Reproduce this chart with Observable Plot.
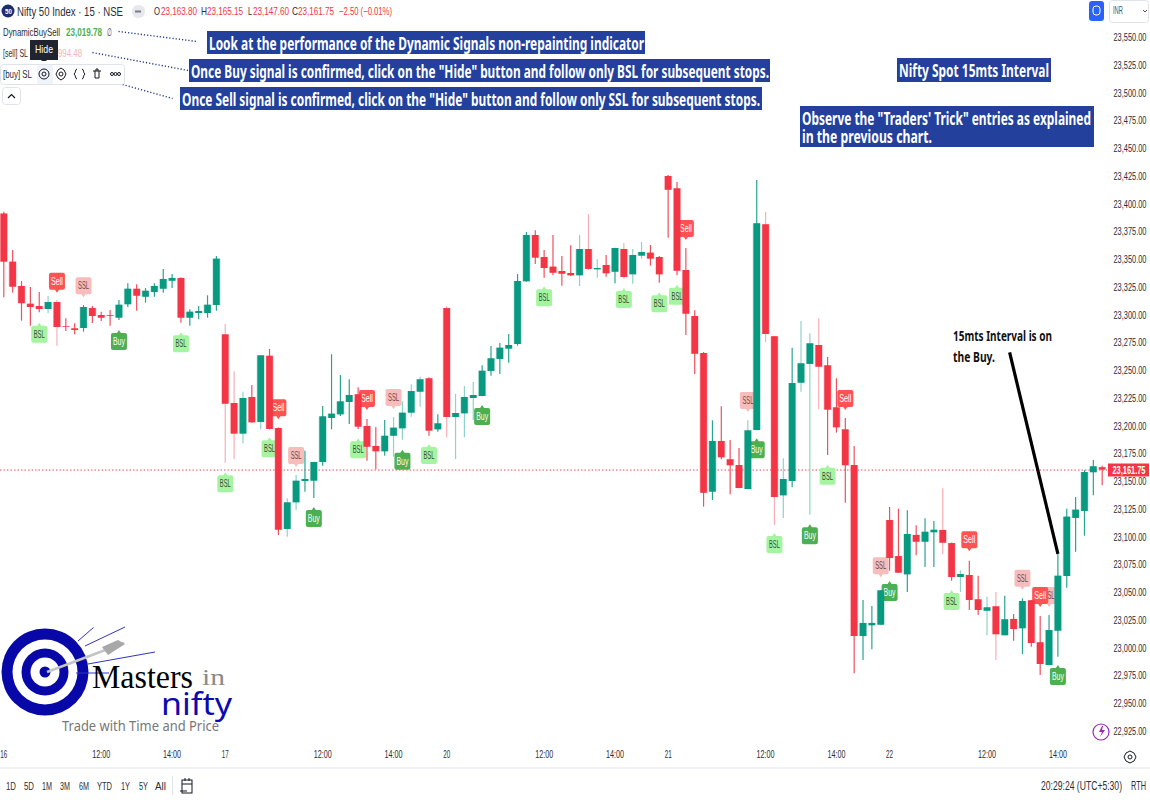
<!DOCTYPE html>
<html><head><meta charset="utf-8">
<script src="https://cdn.jsdelivr.net/npm/d3@7"></script>
<script src="https://cdn.jsdelivr.net/npm/@observablehq/plot@0.6"></script>
<style>
html,body{margin:0;padding:0;background:#fff}
#stage{position:relative;width:1150px;height:800px;overflow:hidden;background:#fff;font-family:"Liberation Sans",sans-serif}
#stage svg{position:absolute;left:0;top:0}
.t{position:absolute;white-space:nowrap;line-height:1;transform-origin:left center}
.box{position:absolute;background:#22409c}
</style></head><body><div id="stage"></div>
<script>
const opens=[23392.5,23349.1,23327.2,23311.2,23309.1,23306.4,23312.7,23290.8,23289.0,23289.3,
23307.3,23301.0,23300.8,23298.6,23310.7,23324.7,23317.5,23321.7,23324.7,23331.9,
23334.4,23298.6,23302.8,23302.8,23310.0,23283.6,23221.7,23194.1,23227.1,23204.6,
23264.3,23199.2,23108.2,23132.2,23151.4,23151.7,23168.5,23208.2,23211.5,23222.6,
23229.6,23201.0,23183.0,23178.2,23192.2,23198.9,23213.0,23231.9,23244.0,23198.0,
23307.3,23209.1,23212.4,23226.2,23228.0,23250.6,23261.4,23270.7,23274.9,23331.4,
23373.1,23353.3,23344.6,23340.7,23338.9,23336.8,23360.5,23342.2,23346.1,23340.0,
23360.5,23337.7,23354.5,23357.2,23353.3,23426.3,23415.2,23341.6,23300.1,23266.8,
23141.8,23187.5,23171.0,23165.8,23144.2,23197.4,23382.8,23281.8,23138.5,23151.4,
23240.0,23256.9,23274.0,23255.7,23217.8,23198.0,23165.8,23011.7,23021.4,23021.9,
23116.3,23083.8,23067.3,23102.8,23096.7,23105.2,23107.3,23095.5,23064.9,23066.7,
23044.8,23034.5,23038.5,23012.4,23027.1,23018.7,23043.9,23006.1,22985.6,23016.5,
23065.8,23118.1,23124.4,23159.3,23163.8];
const highs=[23394.0,23359.6,23331.7,23326.3,23321.7,23318.1,23314.5,23298.0,23293.5,23310.0,
23309.1,23304.0,23305.5,23314.5,23329.6,23328.7,23325.4,23329.6,23342.5,23338.0,
23334.9,23306.2,23309.1,23318.8,23354.2,23292.9,23250.3,23231.9,23237.9,23265.0,
23270.4,23199.6,23135.8,23156.8,23178.7,23168.8,23219.0,23265.6,23246.9,23243.1,
23235.9,23207.3,23200.1,23206.4,23209.1,23223.2,23238.6,23245.4,23245.0,23211.5,
23309.1,23229.8,23237.0,23240.6,23255.7,23273.1,23275.8,23283.9,23338.0,23375.8,
23377.4,23359.6,23373.1,23354.2,23363.8,23373.1,23392.0,23351.2,23355.1,23361.6,
23365.9,23360.5,23366.8,23364.1,23354.2,23427.2,23420.9,23361.4,23305.3,23267.7,
23206.1,23218.7,23188.4,23181.2,23206.1,23422.7,23393.8,23282.0,23171.9,23271.6,
23295.6,23284.5,23298.0,23263.2,23244.0,23208.2,23183.0,23044.2,23038.8,23053.0,
23128.0,23126.5,23125.0,23111.5,23117.8,23115.4,23144.8,23095.9,23070.9,23079.6,
23066.1,23047.2,23051.4,23048.1,23031.6,23045.7,23044.2,23029.8,23030.7,23086.3,
23126.5,23137.0,23161.3,23170.3,23165.15];
const lows=[23317.0,23321.1,23295.9,23291.4,23303.5,23302.6,23273.4,23286.6,23283.6,23286.0,
23293.8,23295.6,23291.4,23296.5,23308.2,23304.9,23312.1,23317.5,23321.1,23325.4,
23294.1,23291.4,23297.1,23298.6,23304.9,23167.9,23171.2,23185.4,23204.0,23198.0,
23198.0,23102.8,23101.2,23125.3,23141.8,23136.1,23165.2,23198.0,23210.0,23202.8,
23198.3,23169.7,23162.0,23174.2,23173.3,23188.6,23209.4,23218.4,23192.2,23195.9,
23190.8,23171.2,23190.8,23206.4,23227.8,23246.3,23247.9,23258.0,23273.4,23331.0,
23347.0,23334.6,23336.8,23327.4,23336.2,23327.2,23341.6,23334.6,23335.5,23329.6,
23333.7,23329.2,23351.8,23345.5,23330.1,23370.7,23336.8,23283.0,23247.9,23128.3,
23134.3,23171.0,23139.4,23144.9,23144.0,23197.2,23276.7,23111.8,23118.1,23145.7,
23231.9,23121.1,23216.3,23174.9,23195.0,23131.9,22978.1,22990.1,22999.7,23021.8,
23070.6,23068.7,23051.4,23084.5,23073.9,23073.9,23085.4,23061.6,23051.4,23035.2,
23030.7,23012.4,22990.1,23012.3,23007.5,22995.5,23002.1,22976.6,22985.4,22993.1,
23055.3,23087.7,23102.1,23138.5,23147.6];
const closes=[23349.1,23326.5,23311.6,23308.2,23306.4,23312.7,23290.2,23290.2,23287.5,23308.2,
23300.1,23298.6,23300.1,23310.3,23324.7,23318.4,23322.9,23327.2,23333.5,23334.4,
23298.6,23304.0,23304.6,23310.3,23351.8,23221.1,23194.1,23226.2,23204.3,23264.7,
23198.3,23107.5,23132.2,23151.7,23153.2,23168.5,23209.7,23212.1,23223.2,23228.9,
23200.4,23182.3,23178.2,23192.2,23199.5,23213.0,23232.5,23243.1,23196.8,23203.4,
23209.1,23212.7,23227.1,23228.9,23250.8,23262.0,23271.6,23274.0,23331.7,23373.1,
23352.7,23343.4,23339.1,23338.2,23336.8,23360.5,23342.5,23343.4,23338.6,23361.4,
23335.3,23355.1,23357.8,23351.8,23337.7,23413.9,23340.9,23302.2,23266.1,23140.9,
23187.5,23172.8,23165.6,23145.1,23197.1,23383.7,23283.9,23137.0,23153.2,23239.7,
23257.5,23275.5,23254.4,23215.7,23199.8,23165.6,23011.7,23023.5,23023.5,23052.9,
23082.0,23068.8,23103.7,23096.7,23105.7,23107.5,23095.8,23064.9,23067.6,23044.2,
23035.2,23037.6,23013.3,23026.8,23018.0,23043.3,23005.4,22986.5,23017.1,23066.1,
23119.3,23125.6,23159.5,23164.7,23161.75];
const paleWicks=[5,6,25,26,27,29,32,33,44,45,46,47,50,51,52,53,65,66,67,70,71,72,84,86,87,88,90,91,92,106,108,111,112];
const signalKinds=["BSL","Sell","SSL","Buy","BSL","BSL","Sell","BSL","SSL","Buy","BSL","Sell","SSL","Buy","BSL","Buy","BSL","BSL","BSL","BSL","Sell","SSL","Buy","BSL","Buy","BSL","Sell","SSL","Buy","BSL","Sell","SSL","SSL","Sell","Buy"];
const signalBars=[4,6,9,13,20,25,31,30,33,35,40,41,44,45,48,54,61,70,74,76,77,84,85,87,91,93,95,99,100,107,109,115,118,117,119];
const signalPrices=[23284.2,23331.9,23327.8,23277.6,23275.5,23149.3,23217.8,23180.9,23174.9,23118.1,23180.0,23226.2,23227.1,23169.7,23174.9,23210.0,23317.0,23315.4,23311.6,23318.4,23379.4,23224.4,23180.0,23094.7,23102.5,23156.2,23226.2,23075.5,23051.4,23043.3,23098.9,23064.3,23048.7,23048.7,22975.7];
const yTicks=[22925,22950,22975,23000,23025,23050,23075,23100,23125,23150,23175,23200,23225,23250,23275,23300,23325,23350,23375,23400,23425,23450,23475,23500,23525,23550];
const timeBars=[0,11,19,25,36,44,50,61,69,75,86,94,100,111,119];
const timeLabels=["16","12:00","14:00","17","12:00","14:00","20","12:00","14:00","21","12:00","14:00","22","12:00","14:00"];
const lastClose=23161.75;
const trendArrow=[{x1:113.55,y1:23267.7,x2:119,y2:23086.3}];
const leaderLines=[{x1:12.95,y1:23557,x2:21.87,y2:23547.9},{x1:10.01,y1:23538,x2:20.85,y2:23521.8},{x1:13.4,y1:23509.2,x2:19.05,y2:23496.6}];

const UP="#089981",DOWN="#f23645";
const candles=opens.map((o,i)=>({i,o,h:highs[i],l:lows[i],c:closes[i],col:closes[i]>=o?UP:DOWN,
  wick:paleWicks.includes(i)?(closes[i]>=o?"#8fd3c6":"#f9aeb5"):(closes[i]>=o?"#2aa48f":"#f0505e")}));
const signals=signalKinds.map((k,j)=>({k,i:signalBars[j],p:signalPrices[j]}));
const fills={Buy:"#4caf50",Sell:"#ff5252",BSL:"#a5f5a0",SSL:"#f7bcbc"};
const inks={Buy:"#fff",Sell:"#fff",BSL:"#3a4a40",SSL:"#6a4a4a"};
function tag(dir){return {draw(c){const w=8,h=8.5,r=2;
  c.moveTo(-w+r,-h);if(dir<0){c.lineTo(-2,-h);c.lineTo(0,-h-3);c.lineTo(2,-h);}
  c.lineTo(w-r,-h);c.arcTo(w,-h,w,-h+r,r);c.lineTo(w,h-r);c.arcTo(w,h,w-r,h,r);
  if(dir>0){c.lineTo(2,h);c.lineTo(0,h+3);c.lineTo(-2,h);}
  c.lineTo(-w+r,h);c.arcTo(-w,h,-w,h-r,r);c.lineTo(-w,-h+r);c.arcTo(-w,-h,-w+r,-h,r);c.closePath();}};}
const priceBox={draw(c){c.rect(0.5,-6.5,41,13);c.closePath();}};
const chart=Plot.plot({width:1150,height:800,marginTop:0,marginLeft:0,marginRight:43,marginBottom:55,
  x:{domain:[-0.3725,124.6],axis:null},
  y:{domain:[22913.5,23584.9],axis:null},
  style:{background:"transparent",fontFamily:'"Liberation Sans"'},
  marks:[
    Plot.ruleY([lastClose],{stroke:"#f23645",strokeDasharray:"1.5,2",strokeWidth:1,strokeOpacity:.9}),
    Plot.dot(signals.filter(d=>d.k==="BSL"||d.k==="Buy"),{x:"i",y:"p",symbol:tag(-1),fill:d=>fills[d.k],stroke:"none"}),
    Plot.dot(signals.filter(d=>d.k==="SSL"),{x:"i",y:"p",symbol:tag(1),fill:d=>fills[d.k],stroke:"none"}),
    Plot.text(signals.filter(d=>d.k==="SSL"),{x:"i",y:"p",text:"k",fill:d=>inks[d.k],fontSize:11}),
    Plot.dot(signals.filter(d=>d.k==="Sell"),{x:"i",y:"p",symbol:tag(1),fill:d=>fills[d.k],stroke:"none"}),
    Plot.text(signals.filter(d=>d.k!=="SSL"),{x:"i",y:"p",text:"k",fill:d=>inks[d.k],fontSize:11,fontWeight:d=>(d.k==="Sell"||d.k==="Buy")?"bold":"normal"}),
    Plot.ruleX(candles,{x:"i",y1:"l",y2:"h",stroke:"wick",strokeWidth:1.2}),
    Plot.ruleX(candles,{x:"i",y1:"o",y2:"c",stroke:"col",strokeWidth:8,strokeOpacity:.3}),
    Plot.ruleX(candles,{x:"i",y1:"o",y2:"c",stroke:"col",strokeWidth:6.6}),
    Plot.link(trendArrow,{x1:"x1",y1:"y1",x2:"x2",y2:"y2",stroke:"#000",strokeWidth:3.2}),
    Plot.link(leaderLines,{x1:"x1",y1:"y1",x2:"x2",y2:"y2",stroke:"#1e3a8a",strokeWidth:1.4,strokeDasharray:"1.2,2"}),
    Plot.axisY({anchor:"right",ticks:yTicks,tickSize:0,tickPadding:6,label:null,tickFormat:d3.format(",.2f"),fill:"#2a2e39",fontSize:11,dy:-1.5}),
    Plot.axisX({anchor:"bottom",ticks:timeBars,tickSize:0,tickPadding:4,label:null,tickFormat:d=>timeLabels[timeBars.indexOf(d)],fill:"#2a2e39",fontSize:11,dy:1}),
    Plot.dot([lastClose],{x:()=>124.6,y:d=>d,symbol:priceBox,fill:"#f23645",stroke:"none"}),
    Plot.text([lastClose],{x:()=>124.6,y:d=>d,dx:5,text:d=>d3.format(",.2f")(d),fill:"#fff",textAnchor:"start",fontSize:11,fontWeight:"bold"})
  ]});
const stage=document.getElementById("stage");
stage.appendChild(chart);
// The reference is squeezed horizontally: narrow each text of the chart to its width there.
function targetWidth(s){if(/,\d{3}\.\d\d/.test(s))return 33;if(s.includes(":"))return 18;if(s.length===2)return 7;if(s==="Buy"||s==="Sell")return 12;return 11;}
chart.querySelectorAll("text").forEach(t=>{
  const k=targetWidth(t.textContent)/t.getComputedTextLength();
  t.setAttribute("transform",(t.getAttribute("transform")||"")+` scale(${k.toFixed(3)},1)`);
});

// decoration layer: logo and toolbar icons
const deco=`<svg width="1150" height="800" viewBox="0 0 1150 800" xmlns="http://www.w3.org/2000/svg">
<rect x="0" y="764" width="1150" height="36" fill="#fff"/>
<line x1="0" x2="1150" y1="768" y2="768" stroke="#e0e3eb"/>
<line x1="172.5" x2="172.5" y1="776" y2="795" stroke="#e0e3eb"/>
<g transform="translate(181,778)" fill="none" stroke="#131722" stroke-width="1"><rect x="1" y="2" width="10" height="13"/><path d="M1 6H11M4 0V3M8 0V3M-1 13H6"/></g>
<circle cx="8" cy="11" r="6.5" fill="#1c2f6b"/>
<rect x="132" y="5" width="13" height="13" rx="6" fill="#e6e8ee"/><rect x="135" y="10.5" width="6" height="2" fill="#787b86"/>
<rect x="0.5" y="64.5" width="124" height="20" rx="3" fill="#fff" stroke="#e0e3eb"/>
<rect x="37" y="65" width="16" height="19" rx="2" fill="#f0f3fa"/>
<path d="M44 58l-3 3h6z" fill="#1f2430"/>
<g fill="none" stroke="#131722" stroke-width="1"><circle cx="44" cy="74" r="5"/><circle cx="44" cy="74" r="2"/><path d="M58 70l3-2 3 2 2 4-2 4-3 2-3-2-2-4z"/><circle cx="61" cy="74" r="2"/><path d="M77 69c-2 0-1 4-3 5 2 1 1 5 3 5M82 69c2 0 1 4 3 5-2 1-1 5-3 5"/><path d="M93 71h8M95 71v7h4v-7M96 71v-2h2v2"/><circle cx="112" cy="74" r="1.5"/><circle cx="115.5" cy="74" r="1.5"/><circle cx="119" cy="74" r="1.5"/></g>
<rect x="2.5" y="87.5" width="18" height="17" rx="3" fill="#fff" stroke="#e0e3eb"/><path d="M8 98l3.500-3.500 3.500 3.500" fill="none" stroke="#131722" stroke-width="1.2"/>
<rect x="1089" y="1" width="15" height="20" rx="3" fill="#2962ff"/><rect x="1093" y="6" width="7" height="9" rx="3" fill="none" stroke="#fff"/>
<rect x="1109.5" y="0.500" width="39" height="22" rx="3" fill="#fff" stroke="#e0e3eb"/><path d="M1143 10l2 2 2-2" fill="none" stroke="#555"/>
<circle cx="1101" cy="732" r="8" fill="#fff" stroke="#9c27b0" stroke-width="1.2"/><path d="M1102 726l-3 6h3l-2 5 5-7h-3l1-4z" fill="#9c27b0"/>
<path d="M1126 753l4-2 4 2 2 4-2 4-4 2-4-2-2-4z" fill="none" stroke="#131722"/><circle cx="1130" cy="757" r="2" fill="none" stroke="#131722"/>
<circle cx="45" cy="672" r="43.500" fill="#0808a8"/><circle cx="45" cy="672" r="32.500" fill="#fff"/><circle cx="45" cy="672" r="23.500" fill="#0808a8"/><circle cx="45" cy="672" r="14.500" fill="#fff"/><circle cx="45" cy="672" r="5.500" fill="#0808a8"/>
<path d="M78 641L93.500 627.500M85 646L125 627M88 664L155 652M76 673H109" stroke="#3333c0" stroke-width="1" fill="none"/>
<path d="M47 672L124 643" stroke="#c4c4c4" stroke-width="2.5"/>
<path d="M102 647L118 640L125 644L108 655z" fill="#a8a8a8"/>
</svg>`;
const layer=document.createElement("div");layer.innerHTML=deco;stage.appendChild(layer);

function box(x,y,w,h,col){const d=document.createElement("div");d.className="box";d.style.cssText=`left:${x}px;top:${y}px;width:${w}px;height:${h}px;`+(col?`background:${col}`:"");stage.appendChild(d);}
function txt(s,x,yc,w,size,color,opt={}){const e=document.createElement("div");e.className="t";e.textContent=s;
  e.style.left=x+"px";e.style.top=yc+"px";e.style.fontSize=size+"px";e.style.color=color;
  e.style.fontFamily=opt.font||'"Liberation Sans"';e.style.fontWeight=opt.weight||"normal";
  stage.appendChild(e);const m=e.getBoundingClientRect().width;
  e.style.transform=`translateY(-50%) scaleX(${w/m})`;}

box(207,31,438,23);box(189,59,581,23);box(180,87,582,23);box(897,58,154,24);box(800,106,294,41);
const NOTE='"Noto Sans"';
const W="#fff";
txt("Look at the performance of the Dynamic Signals non-repainting indicator",209,43,435,17,W,{font:NOTE,weight:"bold"});
txt('Once Buy signal is confirmed, click on the "Hide" button and follow only BSL for subsequent stops.',191,71,578,17,W,{font:NOTE,weight:"bold"});
txt('Once Sell signal is confirmed, click on the "Hide" button and follow only SSL for subsequent stops.',182,99,578,17,W,{font:NOTE,weight:"bold"});
txt("Nifty Spot 15mts Interval",899,70,150,17,W,{font:NOTE,weight:"bold"});
txt('Observe the "Traders\' Trick" entries as explained',802,118,289,17,W,{font:NOTE,weight:"bold"});
txt("in the previous chart.",802,136,130,17,W,{font:NOTE,weight:"bold"});
txt("15mts Interval is on",953,336,99,14,"#111",{font:NOTE,weight:"bold"});
txt("the Buy.",953,357,42,14,"#111",{font:NOTE,weight:"bold"});

const INK="#2a2e39",RD="#f23645";
txt("50",4.5,11,7,7,W,{weight:"bold"});
txt("Nifty 50 Index · 15 · NSE",17,11,106,13,INK);
txt("O",154,11,6,11,INK);txt("23,163.80",161,11,36,11,RD);
txt("H",201,11,6,11,INK);txt("23,165.15",207,11,36,11,RD);
txt("L",248,11,4,11,INK);txt("23,147.60",253,11,36,11,RD);
txt("C",292,11,6,11,INK);txt("23,161.75",298,11,36,11,RD);
txt("−2.50 (−0.01%)",339,11,53,11,RD);
txt("DynamicBuySell",3,32,57,11,INK);
txt("23,019.78",66,32,36,11,"#4caf50",{weight:"bold"});
txt("∅",107,32,5,11,INK);
txt("[sell] SL",3,53,25,11,INK);
box(30,40,28,20,"#1f2430");
txt("Hide",35,49,18,11,W);
txt("994.48",58,53,24,11,"#f7b5b5");
txt("[buy] SL",3,74,29,11,INK);
txt("INR",1113,11,10,10,"#555");
const ranges=["1D","5D","1M","3M","6M","YTD","1Y","5Y","All"],rx=[6,24,42,60,79,97,121,139,155],rw=[10,10,10,10,10,15,9,9,11];
ranges.forEach((r,i)=>txt(r,rx[i],786,rw[i],11,INK));
txt("20:29:24 (UTC+5:30)",1041,786,81,12,INK);
txt("RTH",1131,786,15,12,INK);
txt("Masters",92,677,101,33,"#000",{font:'"Liberation Serif"'});
txt("in",202,677,23,24,"#8a8a8a",{font:'"Liberation Serif"'});
txt("nifty",161,704,71,30,"#0a0ab0",{font:NOTE});
txt("Trade with Time and Price",62,726,157,14,"#777",{font:NOTE});
</script></body></html>
